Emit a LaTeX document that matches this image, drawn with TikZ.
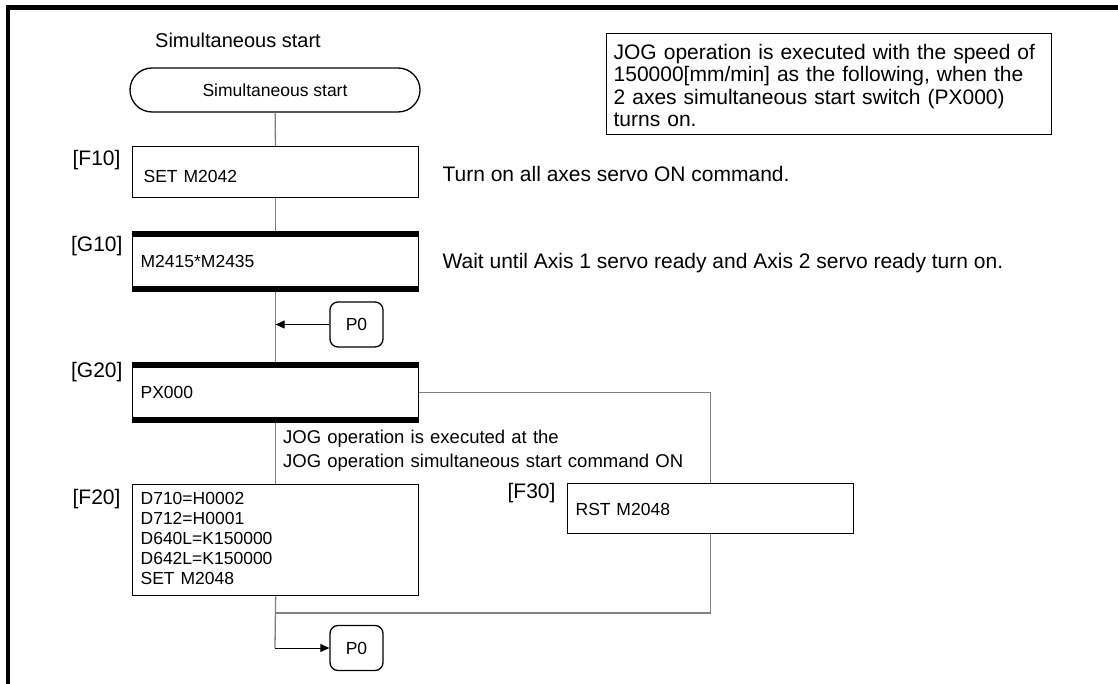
\documentclass[tikz,border=0pt]{standalone}
\usepackage{fontspec}
\setmainfont{Liberation Sans}
\usepackage{tikz}
\usetikzlibrary{arrows.meta,positioning,calc,shapes.misc}

\newcommand{\boxfont}{\fontsize{17.5}{20}\selectfont}
\newcommand{\notefont}{\fontsize{21}{22.3}\selectfont}
\newcommand{\tagfont}{\fontsize{21}{24}\selectfont}
\newcommand{\subfont}{\fontsize{18.5}{24}\selectfont}

\begin{document}
\begin{tikzpicture}[x=1pt, y=-1pt,
    box/.style={draw, line width=1.3pt, anchor=north west, inner xsep=8pt, inner ysep=0pt, text width=270pt, align=left, font=\boxfont},
    waitbox/.style={box, path picture={
        \fill ([yshift=-5.5pt]path picture bounding box.north west) rectangle (path picture bounding box.north east);
        \fill (path picture bounding box.south west) rectangle ([yshift=5.5pt]path picture bounding box.south east);}},
    term/.style={draw, line width=1.3pt, rounded rectangle, minimum width=290pt, minimum height=44pt, inner sep=0pt, font=\boxfont},
    jumpbox/.style={draw, line width=1.3pt, rounded corners=8pt, minimum width=53pt, minimum height=45pt, inner sep=0pt, font=\boxfont},
    tag/.style={anchor=base east, font=\tagfont},
    note/.style={anchor=base west, font=\notefont},
    flow/.style={line width=1.3pt, black!50},
    jump/.style={line width=1pt, -{Triangle[length=9pt,width=8pt]}}
  ]
  \useasboundingbox (0,0) rectangle (1118,684);
  \draw[line width=4.5pt] (8,684) -- (8,7.5) -- (1118,7.5);

  \node[anchor=base, font=\fontsize{20}{24}\selectfont] (title) at (238,48) {Simultaneous start};
  \node[term] (start) at (275,90) {Simultaneous start};

  \node[draw, line width=1.3pt, anchor=north west, inner xsep=7pt, inner ysep=0pt, text width=431pt, align=left, font=\notefont, text height=26pt, text depth=75pt] (memo) at (606,33)
    {JOG operation is executed with the speed of\\150000[mm/min] as the following, when the\\2 axes simultaneous start switch (PX000)\\turns on.};

  \node[box, text height=36pt, text depth=15pt] (f10) at (132,146) {\hspace*{3pt}SET M2042};
  \node[tag] (f10tag) at (124,166) {[F10]};
  \node[note] (f10note) at (439,182) {Turn on all axes servo ON command.};

  \node[waitbox, text height=36pt, text depth=24pt] (g10) at (132,231) {M2415*M2435};
  \node[tag] (g10tag) at (126,252) {[G10]};
  \node[note] (g10note) at (439,269) {Wait until Axis 1 servo ready and Axis 2 servo ready turn on.};

  \node[jumpbox] (p0a) at (356.5,324.5) {P0};

  \node[waitbox, text height=36pt, text depth=24pt] (g20) at (132,362) {PX000};
  \node[tag] (g20tag) at (126,377) {[G20]};
  \node[anchor=base west, font=\subfont, inner sep=0pt, text width=420pt, align=left] (g20note) at (283,443)
    {JOG operation is executed at the\\JOG operation simultaneous start command ON};

  \node[box, text height=20pt, text depth=91pt] (f20) at (132,484)
    {D710=H0002\\D712=H0001\\D640L=K150000\\D642L=K150000\\SET M2048};
  \node[tag] (f20tag) at (124,504) {[F20]};

  \node[box, text height=32pt, text depth=18pt] (f30) at (567,483) {RST M2048};
  \node[tag] (f30tag) at (559,498) {[F30]};

  \node[jumpbox] (p0b) at (356.5,648) {P0};

  \coordinate (mrg) at (275,613);
  \coordinate (bend) at (275,648);

  \draw[flow] (start) -- (f10);
  \draw[flow] (f10) -- (g10);
  \draw[flow] (g10) -- (g20);
  \draw[flow] (g20) -- (f20);
  \draw[flow] (g20.east) -| (f30.north);
  \draw[flow] (f30.south) |- (mrg);
  \draw[flow] (f20.south) -- (bend);
  \draw[jump] (p0a.west) -- (p0a.west -| g10.south);
  \draw[jump] (bend) -- (p0b.west);
\end{tikzpicture}
\end{document}
